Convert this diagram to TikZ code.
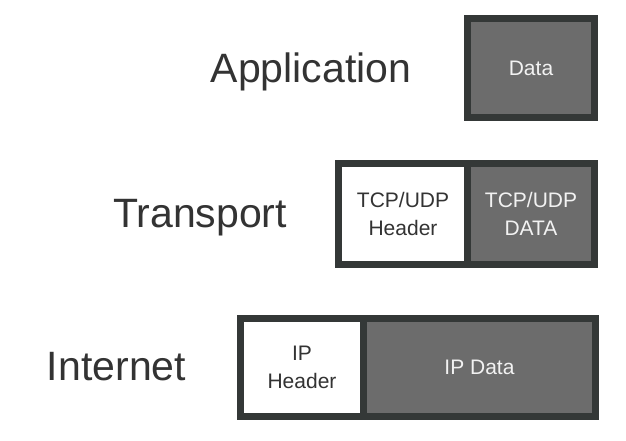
\documentclass[tikz,border=0pt]{standalone}
\usepackage{fontspec}
\setmainfont{Liberation Sans}
\definecolor{edge}{HTML}{343837}
\definecolor{cellgray}{HTML}{6C6C6C}
\definecolor{txtdark}{HTML}{333333}
\definecolor{txtlight}{HTML}{F2F2F2}
\begin{document}
\begin{tikzpicture}[x=1pt,y=-1pt,
  cell/.style={draw=edge, line width=7pt, line join=miter, inner sep=0pt, outer sep=0pt,
    align=center, font=\fontsize{21}{28}\selectfont},
  hdrcell/.style={cell, fill=white, text=txtdark},
  datacell/.style={cell, fill=cellgray, text=txtlight},
  layer/.style={anchor=base, text=txtdark, inner sep=0pt, font=\fontsize{41}{48}\selectfont}
]
\useasboundingbox[fill=white] (0,0) rectangle (626,440);

% layer labels
\node[layer] (lapp) at (311,82) {Application};
\node[layer] (ltra) at (200,227) {Transport};
\node[layer] (lint) at (116.5,380) {Internet};

% Application
\node[datacell, minimum width=127pt, minimum height=99pt] (appdata) at (531,68) {Data};

% Transport
\node[hdrcell, minimum width=129pt, minimum height=101pt] (tcphdr) at (403,214) {TCP/UDP\\Header};
\node[datacell, minimum width=127pt, minimum height=101pt] (tcpdata) at (531,214) {TCP/UDP\\DATA};

% Internet
\node[hdrcell, minimum width=123pt, minimum height=98pt] (iphdr) at (302,367.5) {IP\\Header};
\node[datacell, minimum width=232pt, minimum height=98pt] (ipdata) at (479.5,367.5) {IP Data};
\end{tikzpicture}
\end{document}
